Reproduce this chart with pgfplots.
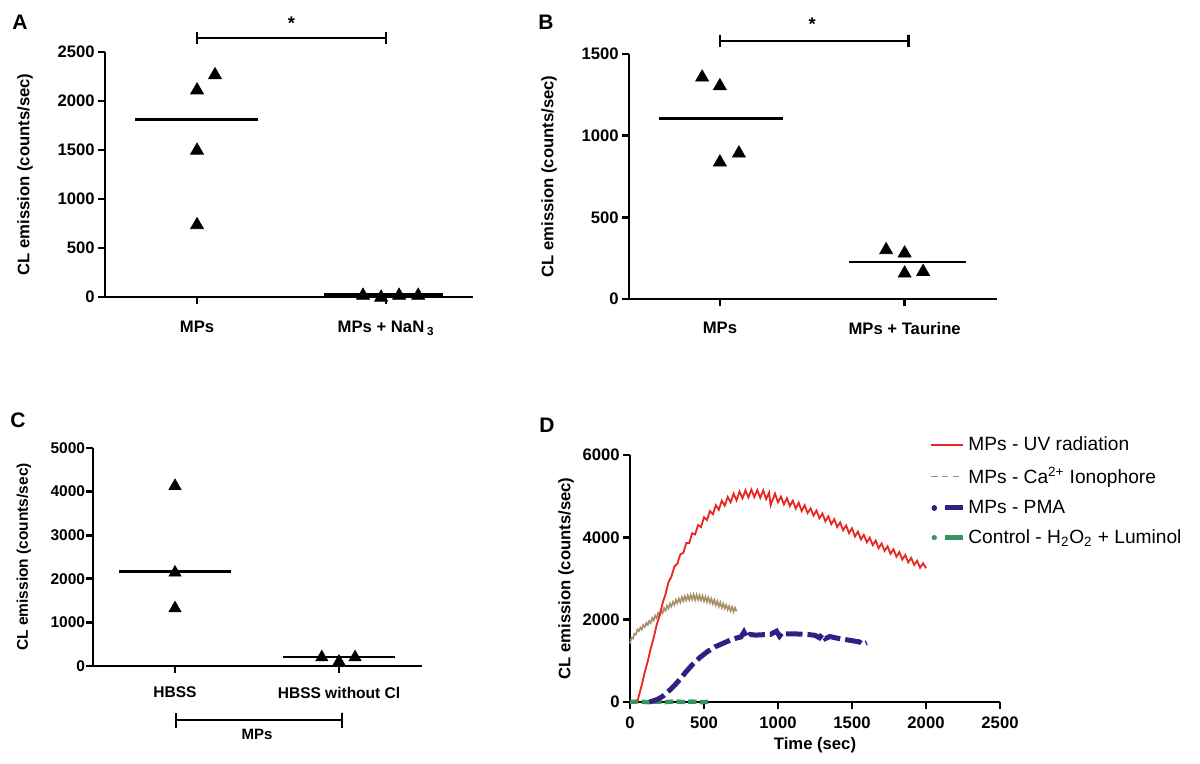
\documentclass[border=0pt]{standalone}
\usepackage{pgfplots}
\pgfplotsset{compat=1.18}
\usepackage{fontspec}
\setmainfont{Liberation Sans}

\definecolor{uvred}{RGB}{232,40,36}
\definecolor{catan}{RGB}{168,145,105}
\definecolor{pmapurple}{RGB}{52,30,130}
\definecolor{ctrlgreen}{RGB}{52,150,90}

\pgfplotsset{
  prism/.style={
    scale only axis,
    anchor=south west,
    axis lines=left,
    axis line style={-, line width=1.7pt},
    tick align=outside,
    major tick length=4.2pt,
    tick style={line width=1.6pt, black},
    clip=false,
    font=\fontsize{10}{12}\selectfont\bfseries,
    /pgf/number format/assume math mode=true,
    /pgf/number format/1000 sep={},
    ticklabel style={font=\fontsize{10}{12}\selectfont\bfseries},
    yticklabel style={xshift=1.5pt},
    ylabel style={anchor=center},
  },
  tri/.style={only marks, mark=triangle*, mark size=4.5pt, black},
  mean/.style={black, line width=1.4pt, no marks},
  brk/.style={black, line width=1.4pt, no marks},
}

\begin{document}
\begin{tikzpicture}
\path[use as bounding box] (0,0) rectangle (720pt,457.8pt);

% ---------- A ----------
\begin{axis}[prism, at={(63pt,279.6pt)}, width=220.8pt, height=147pt,
  xmin=0.513, xmax=2.46, ymin=0, ymax=2500,
  xtick={1,2}, xticklabels={MPs, MPs + NaN\,\textsubscript{3}},
  xticklabel style={yshift=-6.7pt},
  ytick={0,500,...,2500},
  ylabel={CL emission (counts/sec)},
  ylabel style={at={(axis description cs:-0.217,0.5)}}]
\addplot[tri] coordinates {(1,2110) (1.095,2265) (1,1495) (1,735)};
\addplot[mean] coordinates {(0.672,1810) (1.32,1810)};
\addplot[tri] coordinates {(1.878,15) (1.974,-5) (2.069,15) (2.17,15)};
\addplot[mean] coordinates {(1.672,27) (2.30,27)};
\addplot[brk] coordinates {(1,2582) (1,2704) (1,2643) (2,2643) (2,2704) (2,2582)};
\node[font=\fontsize{11}{12}\selectfont\bfseries] at (axis cs:1.5,2790) {*};
\end{axis}

% ---------- B ----------
\begin{axis}[prism, at={(377.4pt,278.4pt)}, width=220.8pt, height=147pt,
  xmin=0.508, xmax=2.50, ymin=0, ymax=1500,
  xtick={1,2}, xticklabels={MPs, MPs + Taurine},
  xticklabel style={yshift=-6.1pt},
  ytick={0,500,1000,1500},
  ylabel={CL emission (counts/sec)},
  ylabel style={at={(axis description cs:-0.217,0.5)}}]
\addplot[tri] coordinates {(0.904,1357) (1,1304) (1,837) (1.103,892)};
\addplot[mean] coordinates {(0.67,1106) (1.34,1106)};
\addplot[tri] coordinates {(1.90,300) (2,280) (2,157) (2.10,167)};
\addplot[mean] coordinates {(1.70,225) (2.33,225)};
\addplot[brk] coordinates {(1,1543) (1,1617) (1,1580) (2.02,1580) (2.02,1617) (2.02,1543)};
\node[font=\fontsize{11}{12}\selectfont\bfseries] at (axis cs:1.5,1682) {*};
\end{axis}

% ---------- C ----------
\begin{axis}[prism, at={(55.8pt,58.2pt)}, width=197.4pt, height=130.8pt,
  font=\fontsize{9.3}{11}\selectfont\bfseries,
  ticklabel style={font=\fontsize{9.3}{11}\selectfont\bfseries},
  xmin=0.5, xmax=2.506, ymin=0, ymax=5000,
  xtick={1,2}, xticklabels={HBSS, HBSS without Cl},
  xticklabel style={yshift=-4.8pt},
  yticklabel style={xshift=1.5pt},
  ytick={0,1000,...,5000},
  ylabel={CL emission (counts/sec)},
  ylabel style={at={(axis description cs:-0.21,0.5)}}]
\addplot[tri, mark size=4.2pt] coordinates {(1,4128) (1,2141) (1,1323)};
\addplot[mean] coordinates {(0.66,2165) (1.34,2165)};
\addplot[tri, mark size=4.2pt] coordinates {(1.895,199) (2,100) (2.098,199)};
\addplot[mean] coordinates {(1.66,200) (2.34,200)};
\addplot[brk] coordinates {(1.006,-1078) (1.006,-1422) (1.006,-1239) (2.018,-1239) (2.018,-1078) (2.018,-1422)};
\node[font=\fontsize{9}{11}\selectfont\bfseries] at (axis cs:1.5,-1560) {MPs};
\end{axis}

% ---------- D ----------
\begin{axis}[prism, at={(378pt,36.6pt)}, width=222pt, height=148.2pt,
  xmin=0, xmax=2500, ymin=0, ymax=6000,
  xtick={0,500,...,2500}, ytick={0,2000,4000,6000},
  xticklabel style={yshift=-1.2pt},
  xlabel={Time (sec)},
  xlabel style={at={(axis description cs:0.5,-0.174)}, anchor=center},
  ylabel={CL emission (counts/sec)},
  ylabel style={at={(axis description cs:-0.173,0.5)}},
  reverse legend,
  legend cell align=left,
  legend style={at={(axis description cs:0.81,1.085)}, anchor=north west,
    draw=none, fill=none, inner sep=0pt, row sep=5.3pt,
    font=\fontsize{11.5}{13}\selectfont\mdseries,
    nodes={inner sep=1.5pt}},
]
\addplot[ctrlgreen, line width=2.6pt, dash pattern=on 5pt off 2pt,
  legend image code/.code={
    \draw[ctrlgreen, solid, line width=3.2pt, line cap=round] (2pt,0pt) -- (2.1pt,0pt);
    \draw[ctrlgreen, solid, line width=3pt] (8.5pt,0pt) -- (19.5pt,0pt);}]
  coordinates {(0,0) (60,15) (120,-5) (180,10) (240,-5) (300,15) (360,0) (420,10) (480,-5) (540,10)};
\addlegendentry{Control - H\textsubscript{2}O\textsubscript{2} + Luminol}

\addplot[pmapurple, line width=3pt, dash pattern=on 10pt off 3pt,
  legend image code/.code={
    \draw[pmapurple, solid, line width=3.2pt, line cap=round] (2pt,0pt) -- (2.1pt,0pt);
    \draw[pmapurple, solid, line width=3pt] (8.5pt,0pt) -- (19.5pt,0pt);}]
  coordinates {(130,0) (150,20) (175,50) (200,90) (225,150) (250,230) (275,310)
  (300,400) (325,500) (350,600) (375,720) (400,820) (425,920) (450,1000) (475,1090)
  (500,1160) (525,1230) (550,1280) (575,1340) (600,1380) (625,1420) (650,1460)
  (675,1500) (700,1530) (725,1560) (750,1580) (770,1700) (790,1560) (810,1640)
  (850,1625) (900,1635) (950,1645) (990,1720) (1010,1600) (1030,1690) (1050,1655)
  (1100,1655) (1150,1650) (1200,1640) (1250,1620) (1280,1560) (1300,1650)
  (1320,1540) (1350,1590) (1400,1550) (1450,1520) (1500,1490) (1550,1460)
  (1575,1400) (1600,1440)};
\addlegendentry{MPs - PMA}

\addplot[catan, line width=1pt,
  legend image code/.code={
    \draw[catan, line width=1pt, dash pattern=on 4pt off 2.5pt] (0pt,0pt) -- (19.5pt,0pt);}]
  coordinates {(0,1420) (10,1560) (20,1540) (30,1660) (40,1640) (50,1760) (60,1720)
  (70,1810) (80,1760) (90,1870) (100,1820) (110,1920) (120,1870) (130,1970)
  (140,1920) (150,2040) (160,1980) (170,2100) (180,2040) (190,2160) (200,2100)
  (210,2220) (220,2160) (230,2280) (240,2220) (250,2340) (260,2270) (270,2390)
  (280,2320) (290,2430) (300,2360) (310,2480) (320,2400) (330,2510) (340,2420)
  (350,2550) (360,2450) (370,2570) (380,2470) (390,2590) (400,2480) (410,2600)
  (420,2490) (430,2610) (440,2480) (450,2600) (460,2480) (470,2590) (480,2470)
  (490,2580) (500,2450) (510,2560) (520,2430) (530,2540) (540,2410) (550,2510)
  (560,2380) (570,2480) (580,2350) (590,2450) (600,2320) (610,2420) (620,2290)
  (630,2390) (640,2270) (650,2360) (660,2240) (670,2330) (680,2210) (690,2310)
  (700,2190) (710,2290) (720,2200)};
\addlegendentry{MPs - Ca\textsuperscript{2+} Ionophore}

\addplot[uvred, line width=1.1pt,
  legend image code/.code={
    \draw[uvred, line width=1pt] (0pt,0pt) -- (19.5pt,0pt);}]
  coordinates {(50,0) (60,150) (80,420) (100,730) (120,990) (140,1300) (160,1560)
  (180,1870) (200,2100) (220,2400) (240,2620) (260,2910) (280,3050) (300,3290)
  (320,3360) (340,3590) (360,3620) (380,3860) (400,3860) (420,4100) (440,4070)
  (460,4300) (480,4250) (500,4490) (520,4420) (540,4640) (560,4560) (580,4780)
  (600,4670) (620,4890) (640,4770) (660,4980) (680,4850) (700,5060) (720,4900)
  (740,5110) (760,4950) (780,5140) (800,4970) (820,5160) (840,4980) (860,5150)
  (880,4960) (900,5140) (920,4930) (940,5090) (950,4780) (960,4880) (980,5060)
  (1000,4850) (1020,4990) (1040,4800) (1060,4950) (1080,4760) (1100,4890)
  (1120,4700) (1140,4840) (1160,4640) (1180,4780) (1200,4590) (1220,4700)
  (1240,4530) (1260,4650) (1280,4460) (1300,4580) (1320,4390) (1340,4510)
  (1360,4320) (1380,4440) (1400,4250) (1420,4360) (1440,4170) (1460,4290)
  (1480,4100) (1500,4220) (1520,4020) (1540,4140) (1560,3950) (1580,4060)
  (1600,3880) (1620,3990) (1640,3810) (1660,3920) (1680,3740) (1700,3850)
  (1720,3670) (1740,3780) (1760,3600) (1780,3710) (1800,3530) (1820,3640)
  (1840,3460) (1860,3570) (1880,3390) (1900,3500) (1920,3330) (1940,3430)
  (1960,3260) (1980,3370) (2000,3250)};
\addlegendentry{MPs - UV radiation}
\end{axis}

% panel letters
\node[font=\fontsize{12.6}{14}\selectfont\bfseries] at (12pt,444.6pt) {A};
\node[font=\fontsize{12.6}{14}\selectfont\bfseries] at (327.6pt,444.6pt) {B};
\node[font=\fontsize{12.6}{14}\selectfont\bfseries] at (10.8pt,205.8pt) {C};
\node[font=\fontsize{12.6}{14}\selectfont\bfseries] at (328.2pt,202.8pt) {D};
\end{tikzpicture}
\end{document}
